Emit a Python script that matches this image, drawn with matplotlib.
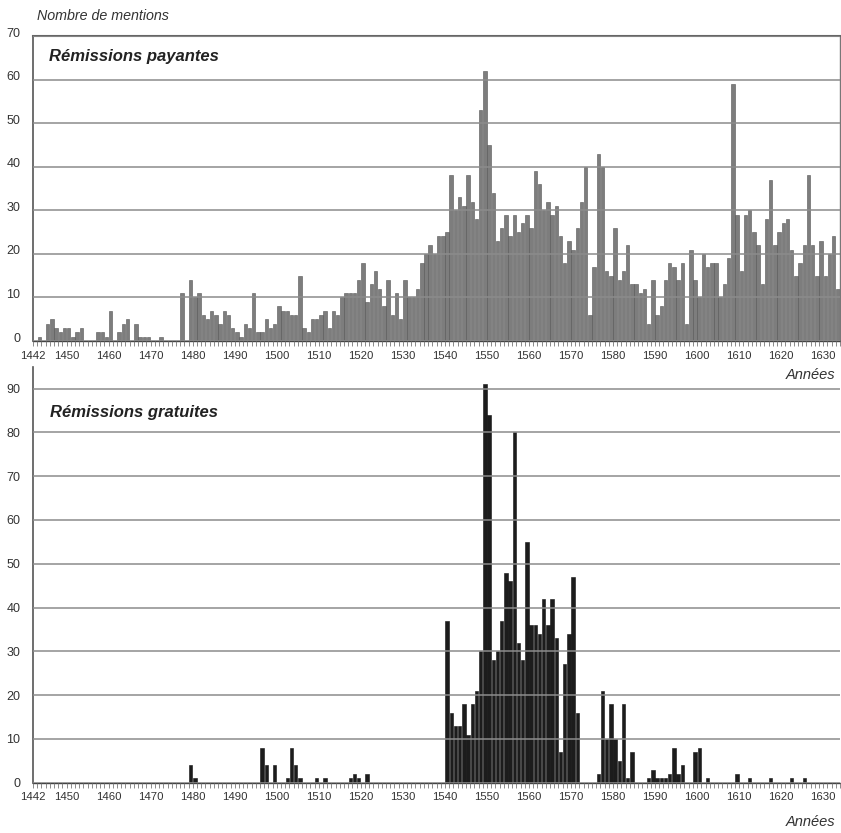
import numpy as np
import matplotlib
matplotlib.use("Agg")
import matplotlib.pyplot as plt
from matplotlib.transforms import ScaledTranslation

plt.rcParams['font.family'] = ['Liberation Sans', 'DejaVu Sans']

first_year = 1442
last_year = 1633
years = np.arange(first_year, last_year + 1)

# remissions payantes, 10 ans par ligne
payantes = [
    0, 1, 0, 4, 5, 3, 2, 3, 3, 1,            # 1442-1451
    2, 3, 0, 0, 0, 2, 2, 1, 7, 0,            # 1452-1461
    2, 4, 5, 0, 4, 1, 1, 1, 0, 0,            # 1462-1471
    1, 0, 0, 0, 0, 11, 0, 14, 10, 11,        # 1472-1481
    6, 5, 7, 6, 4, 7, 6, 3, 2, 1,            # 1482-1491
    4, 3, 11, 2, 2, 5, 3, 4, 8, 7,           # 1492-1501
    7, 6, 6, 15, 3, 2, 5, 5, 6, 7,           # 1502-1511
    3, 7, 6, 10, 11, 11, 11, 14, 18, 9,      # 1512-1521
    13, 16, 12, 8, 14, 6, 11, 5, 14, 10,     # 1522-1531
    10, 12, 18, 20, 22, 20, 24, 24, 25, 38,  # 1532-1541
    30, 33, 31, 38, 32, 28, 53, 62, 45, 34,  # 1542-1551
    23, 26, 29, 24, 29, 25, 27, 29, 26, 39,  # 1552-1561
    36, 30, 32, 29, 31, 24, 18, 23, 21, 26,  # 1562-1571
    32, 40, 6, 17, 43, 40, 16, 15, 26, 14,   # 1572-1581
    16, 22, 13, 13, 11, 12, 4, 14, 6, 8,     # 1582-1591
    14, 18, 17, 14, 18, 4, 21, 14, 10, 20,   # 1592-1601
    17, 18, 18, 10, 13, 19, 59, 29, 16, 29,  # 1602-1611
    30, 25, 22, 13, 28, 37, 22, 25, 27, 28,  # 1612-1621
    21, 15, 18, 22, 38, 22, 15, 23, 15, 20,  # 1622-1631
    24, 12,                                  # 1632-1633
]

# remissions gratuites
gratuites = [
    0, 0, 0, 0, 0, 0, 0, 0, 0, 0,            # 1442-1451
    0, 0, 0, 0, 0, 0, 0, 0, 0, 0,            # 1452-1461
    0, 0, 0, 0, 0, 0, 0, 0, 0, 0,            # 1462-1471
    0, 0, 0, 0, 0, 0, 0, 4, 1, 0,            # 1472-1481
    0, 0, 0, 0, 0, 0, 0, 0, 0, 0,            # 1482-1491
    0, 0, 0, 0, 8, 4, 0, 4, 0, 0,            # 1492-1501
    1, 8, 4, 1, 0, 0, 0, 1, 0, 1,            # 1502-1511
    0, 0, 0, 0, 0, 1, 2, 1, 0, 2,            # 1512-1521
    0, 0, 0, 0, 0, 0, 0, 0, 0, 0,            # 1522-1531
    0, 0, 0, 0, 0, 0, 0, 0, 37, 16,          # 1532-1541
    13, 13, 18, 11, 18, 21, 30, 91, 84, 28,  # 1542-1551
    30, 37, 48, 46, 80, 32, 28, 55, 36, 36,  # 1552-1561
    34, 42, 36, 42, 33, 7, 27, 34, 47, 16,   # 1562-1571
    0, 0, 0, 0, 2, 21, 10, 18, 10, 5,        # 1572-1581
    18, 1, 7, 0, 0, 0, 1, 3, 1, 1,           # 1582-1591
    1, 2, 8, 2, 4, 0, 0, 7, 8, 0,            # 1592-1601
    1, 0, 0, 0, 0, 0, 0, 2, 0, 0,            # 1602-1611
    1, 0, 0, 0, 0, 1, 0, 0, 0, 0,            # 1612-1621
    1, 0, 0, 1, 0, 0, 0, 0, 0, 0,            # 1622-1631
    0, 0,                                    # 1632-1633
]

tick_years = [1442] + list(range(1450, 1631, 10))

W, H = 841, 833
fig = plt.figure(figsize=(W / 100, H / 100), dpi=100)
fig.patch.set_facecolor('white')

ax1 = fig.add_axes([33 / W, 1 - 341 / H, 807 / W, 305 / H])
ax2 = fig.add_axes([33 / W, 1 - 782.7 / H, 807 / W, 416 / H])


def style_axis(ax, ymax, ytop):
    ax.set_xlim(first_year - 0.5, last_year + 0.5)
    ax.set_ylim(0, ymax)
    ax.set_yticks(range(0, ytop + 1, 10))
    ax.set_axisbelow(False)
    ax.yaxis.grid(True, color='#8c8c8c', linewidth=1.1)
    ax.xaxis.grid(False)
    ax.set_xticks([y - 0.5 for y in tick_years])
    ax.set_xticklabels([str(y) for y in tick_years])
    ax.set_xticks(np.arange(first_year - 0.5, last_year + 0.6, 1), minor=True)
    ax.tick_params(axis='x', which='both', direction='out', length=3.5,
                   width=0.6, color='#777777', labelsize=8.2, pad=3.5,
                   labelcolor='#333333')
    ax.tick_params(axis='y', length=0, labelsize=9, pad=9,
                   labelcolor='#333333')
    ax.spines['left'].set_color('#555555')
    ax.spines['left'].set_linewidth(1.2)
    ax.spines['bottom'].set_color('#444444')
    ax.spines['bottom'].set_linewidth(1.0)


ax1.bar(years, payantes, width=0.82, color='#7d7d7d', edgecolor='#555555',
        linewidth=0.4)
style_axis(ax1, 70, 70)
ax1.spines['top'].set_color('#666666')
ax1.spines['top'].set_linewidth(1.5)
ax1.spines['right'].set_color('#777777')
ax1.spines['right'].set_linewidth(1.0)
shift = ScaledTranslation(0, 0.04, fig.dpi_scale_trans)
for lbl in ax1.get_yticklabels():
    lbl.set_transform(lbl.get_transform() + shift)

ax2.bar(years, gratuites, width=0.8, color='#1c1c1c', edgecolor='#111111',
        linewidth=0.4)
style_axis(ax2, 95, 90)
ax2.spines['top'].set_visible(False)
ax2.spines['right'].set_visible(False)

ax1.text(16 / 807, (341 - 56.7) / 305, 'Rémissions payantes',
         transform=ax1.transAxes, fontsize=12, fontweight='bold',
         style='italic', ha='left', va='center', color='#222222')
ax2.text(17 / 807, (782.7 - 412.7) / 416, 'Rémissions gratuites',
         transform=ax2.transAxes, fontsize=12, fontweight='bold',
         style='italic', ha='left', va='center', color='#222222')

fig.text(37 / W, 1 - 16 / H, 'Nombre de mentions', style='italic',
         fontsize=10.3, ha='left', va='center', color='#333333')
fig.text(835 / W, 1 - 375 / H, 'Années', style='italic', fontsize=10.5,
         ha='right', va='center', color='#333333')
fig.text(835 / W, 1 - 822 / H, 'Années', style='italic', fontsize=10.5,
         ha='right', va='center', color='#333333')

fig.savefig('out.png', dpi=100)
